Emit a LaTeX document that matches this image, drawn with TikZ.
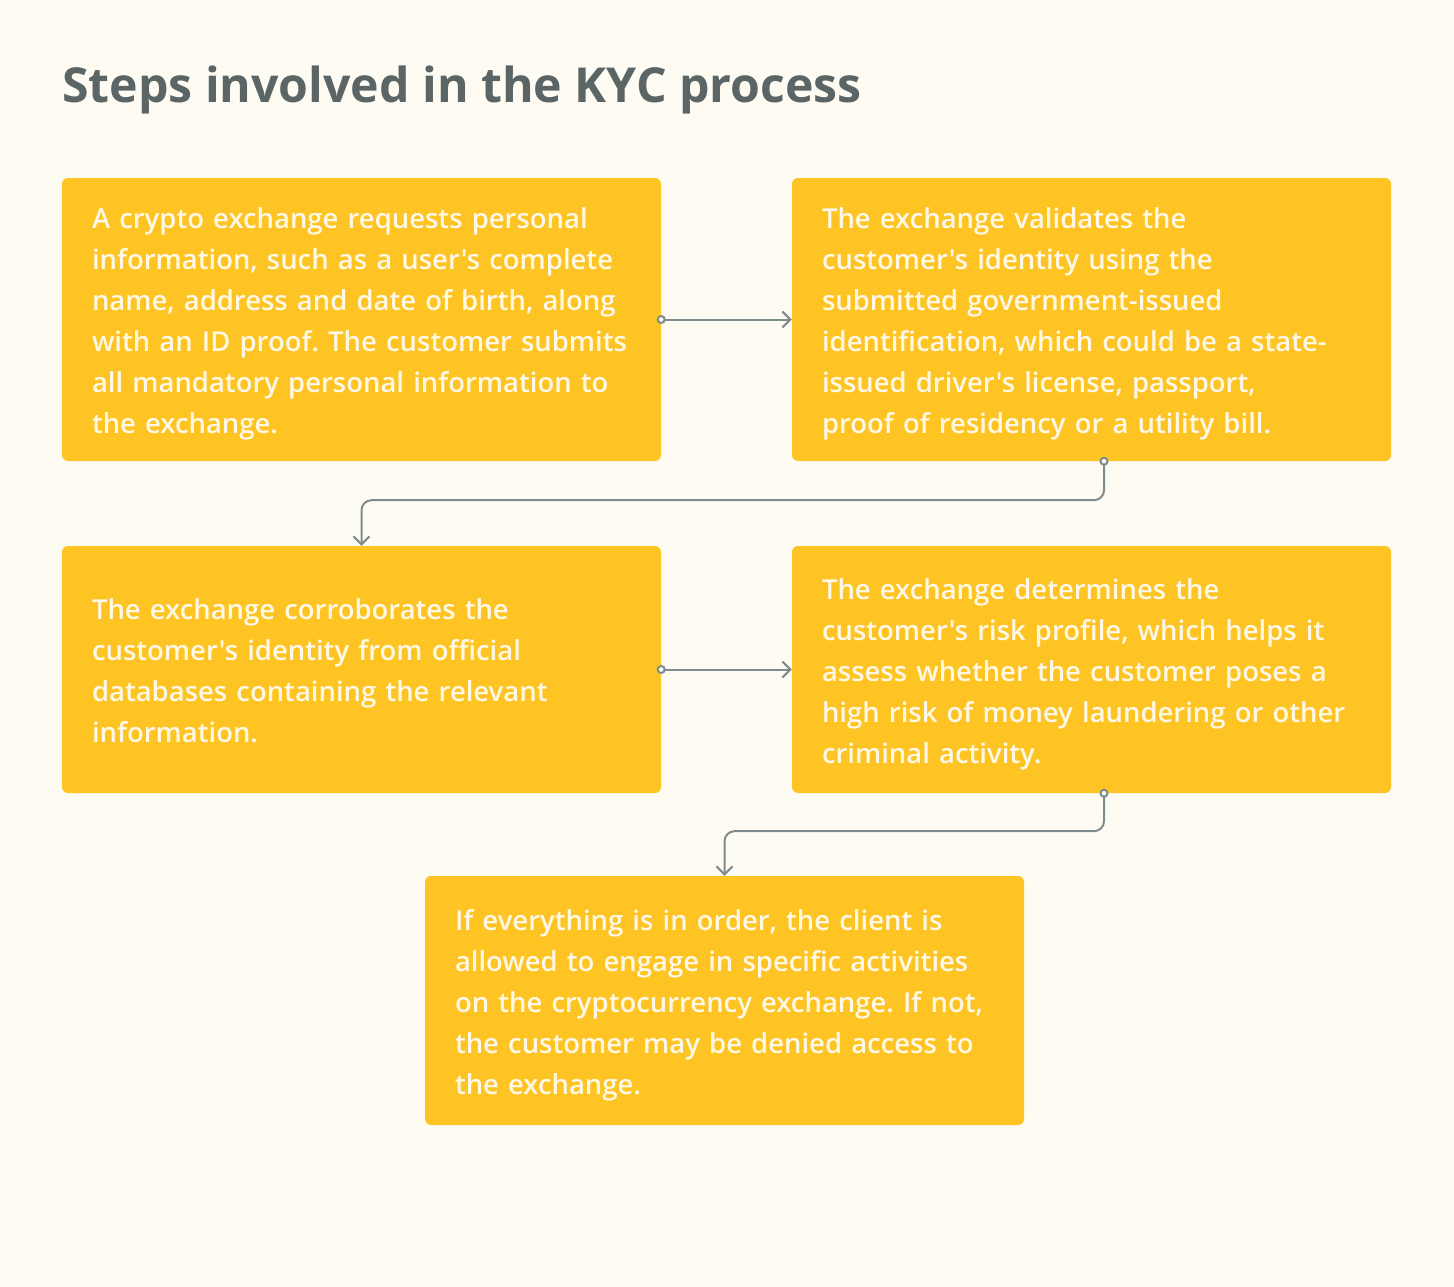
\documentclass[tikz,border=0pt]{standalone}
\usepackage{fontspec}
\setmainfont{Open Sans}[UprightFont=* Semibold, BoldFont=* Bold, Ligatures=TeXOff]
\usetikzlibrary{arrows.meta}
\definecolor{bgc}{HTML}{FEFBF3}
\definecolor{boxc}{HTML}{FDC424}
\definecolor{txtc}{HTML}{FFF8E6}
\definecolor{titlec}{HTML}{5B6566}
\definecolor{linec}{HTML}{7F8C8D}
\tikzset{
  stepbox/.style={fill=boxc, draw=none, rounded corners=6pt, minimum width=599pt, inner sep=0pt},
  steptext/.style={text width=539pt, align=left, text=txtc, inner sep=0pt,
    font=\fontsize{27.45}{41}\selectfont},
  conn/.style={draw=linec, line width=2pt, rounded corners=10pt,
    {Circle[open,length=9pt,width=9pt,fill=bgc]}-{Straight Barb[length=8pt,width=16pt]}}
}
\begin{document}
\frenchspacing
\begin{tikzpicture}[x=1pt,y=-1pt]
\fill[bgc] (0,0) rectangle (1454,1287);
\useasboundingbox (0,0) rectangle (1454,1287);
\node[anchor=base west, text=titlec, font=\fontsize{48.2}{52}\selectfont\bfseries, inner sep=0pt] (title) at (62,103) {Steps involved in the KYC process};
\node[stepbox, minimum height=283pt] (s1) at (361.5,319.5) {};
\node[stepbox, minimum height=283pt] (s2) at (1091.5,319.5) {};
\node[stepbox, minimum height=247pt] (s3) at (361.5,669.5) {};
\node[stepbox, minimum height=247pt] (s4) at (1091.5,669.5) {};
\node[stepbox, minimum height=249pt] (s5) at (724.5,1000.5) {};
\node[steptext] (t1) at ([yshift=-4.5pt]s1.center) {A crypto exchange requests personal\\information, such as a user's complete\\name, address and date of birth, along\\with an ID proof. The customer submits\\all mandatory personal information to\\the exchange.};
\node[steptext] (t2) at ([yshift=-4.5pt]s2.center) {The exchange validates the\\customer's identity using the\\submitted government-issued\\identification, which could be a state-\\issued driver's license, passport,\\proof of residency or a utility bill.};
\node[steptext] (t3) at ([yshift=-1.5pt]s3.center) {The exchange corroborates the\\customer's identity from official\\databases containing the relevant\\information.};
\node[steptext] (t4) at ([yshift=-4.5pt]s4.center) {The exchange determines the\\customer's risk profile, which helps it\\assess whether the customer poses a\\high risk of money laundering or other\\criminal activity.};
\node[steptext] (t5) at ([yshift=-4.5pt]s5.center) {If everything is in order, the client is\\allowed to engage in specific activities\\on the cryptocurrency exchange. If not,\\the customer may be denied access to\\the exchange.};
\coordinate (c1a) at ([xshift=-4.5pt]s1.east);
\coordinate (c3a) at ([xshift=-4.5pt]s3.east);
\coordinate (c2a) at ([xshift=12.5pt,yshift=4.5pt]s2.south);
\coordinate (c4a) at ([xshift=12.5pt,yshift=4.5pt]s4.south);
\coordinate (c2b) at ([xshift=12.5pt,yshift=-39pt]s2.south);
\coordinate (c4b) at ([xshift=12.5pt,yshift=-38pt]s4.south);
\draw[conn] (c1a) -- (s2.west);
\draw[conn] (c3a) -- (s4.west);
\draw[conn] (c2a) -- (c2b) -| (s3.north);
\draw[conn] (c4a) -- (c4b) -| (s5.north);
\end{tikzpicture}
\end{document}
